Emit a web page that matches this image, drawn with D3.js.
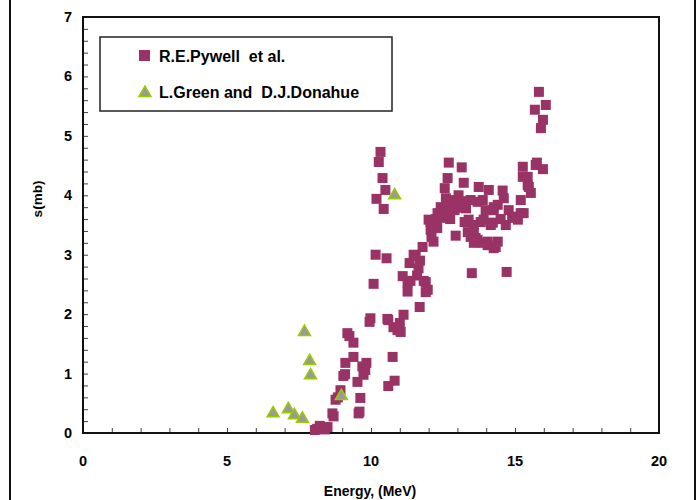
<!DOCTYPE html>
<html>
<head>
<meta charset="utf-8">
<script src="https://cdn.jsdelivr.net/npm/d3@7"></script>
<style>
  html, body { margin: 0; padding: 0; background: #fff; }
  svg { display: block; }
  text { font-family: "Liberation Sans", Arial, sans-serif; white-space: pre; }
</style>
</head>
<body>
<svg id="chart" width="699" height="500"></svg>
<script>
// Cross-section measurements: [energy (MeV), sigma (mb)]
const pywell = [
  [8.05,0.05],[8.13,0.07],[8.30,0.09],[8.49,0.10],[8.22,0.12],[8.40,0.06],
  [8.66,0.33],[8.70,0.28],[8.77,0.56],[8.85,0.60],[8.94,0.72],[9.04,0.96],
  [9.10,0.99],[9.11,1.18],[9.18,1.68],[9.25,1.63],[9.39,1.52],[9.39,1.28],
  [9.53,0.86],[9.57,0.33],[9.60,0.36],[9.63,0.59],[9.74,0.98],[9.80,1.06],
  [9.84,1.18],[9.70,1.12],[9.98,1.93],[9.95,1.87],[10.60,1.90],[10.57,1.92],
  [10.78,1.78],[10.92,1.73],[11.03,1.70],[11.13,1.99],[11.00,1.85],[10.75,1.28],
  [10.82,0.88],[10.60,0.79],[11.69,2.12],
  [10.33,4.73],[10.27,4.56],[10.40,4.29],[10.50,4.09],[10.19,3.94],[10.44,3.77],
  [10.16,3.00],[10.54,2.94],[10.09,2.51],
  [11.10,2.64],[11.27,2.53],[11.27,2.38],[11.34,2.86],[11.37,2.56],[11.48,3.00],
  [11.55,2.98],[11.65,2.77],[11.79,3.13],[11.83,2.56],[11.90,2.54],[11.97,2.41],
  [11.90,2.37],[12.00,3.59],[12.07,3.42],[12.07,3.55],[12.17,3.22],[12.25,3.60],
  [12.31,3.70],[12.42,3.80],[12.35,3.65],[12.50,3.75],[12.56,4.12],[12.66,4.29],
  [12.70,4.55],[12.83,3.84],[12.60,3.95],[12.75,3.90],[12.94,3.32],[12.90,3.75],
  [13.04,4.00],[13.00,3.85],[13.15,4.47],[13.22,4.21],[13.18,3.90],[13.36,3.38],
  [13.39,3.59],[13.46,3.92],[13.46,3.30],[13.50,2.69],[13.57,3.50],[13.57,3.20],
  [13.63,3.28],[13.70,3.89],[13.70,3.25],[13.74,4.14],[13.81,3.55],[13.98,3.75],
  [14.05,3.22],[14.09,4.09],[14.16,3.50],[14.26,3.75],[14.26,3.11],[14.40,3.84],
  [14.40,3.22],[14.57,4.08],[14.61,3.95],[14.68,3.50],[14.71,2.71],[14.78,3.75],
  [14.96,3.64],[15.10,3.59],[15.20,3.70],[15.30,3.70],[15.20,3.92],[15.27,4.48],
  [15.27,4.31],[15.44,4.31],[15.44,4.17],[15.48,4.14],[15.55,4.04],[15.72,4.51],
  [15.76,4.55],[15.97,4.44],[15.83,5.74],[16.07,5.52],[15.69,5.44],[15.97,5.27],
  [15.90,5.13],
  [12.20,3.48],[12.45,3.62],[12.60,3.72],[12.75,3.60],[12.87,3.92],[13.10,3.79],
  [13.30,3.78],[13.25,3.55],[13.88,3.92],[13.91,3.59],[14.23,3.54],[14.26,3.80],
  [13.57,3.37],[13.88,3.20],[14.05,3.16],[14.33,3.13],[14.50,3.60],[14.90,3.62],
  [12.10,3.30],[12.30,3.45],[11.70,2.90],[11.60,2.65]
];

const green = [
  [6.60,0.33],[7.13,0.40],[7.34,0.30],[7.62,0.24],[7.69,1.70],
  [7.87,1.21],[7.90,0.97],[8.97,0.62],[10.82,4.00]
];

const xTicks = [0, 5, 10, 15, 20];
const yTicks = [0, 1, 2, 3, 4, 5, 6, 7];
const legendLabels = ["R.E.Pywell  et al.", "L.Green and  D.J.Donahue"];
const xTitle = "Energy, (MeV)";
const yTitle = "s(mb)";

const svg = d3.select("#chart");
const plot = { left: 83, right: 659, top: 17, bottom: 433 };

const x = d3.scaleLinear().domain([0, 20]).range([plot.left, plot.right]);
const y = d3.scaleLinear().domain([0, 7]).range([plot.bottom, plot.top]);

// outer frame lines
svg.append("rect")
  .attr("x", 10).attr("y", -10).attr("width", 685).attr("height", 520)
  .attr("fill", "none").attr("stroke", "#111").attr("stroke-width", 2);

// minor/major ticks pointing inward
const xAxis = d3.axisTop(x).tickValues(d3.range(0, 21, 1)).tickSize(5).tickFormat("");
svg.append("g").attr("transform", `translate(0,${plot.bottom})`).call(xAxis)
  .call(g => g.select(".domain").remove())
  .selectAll("line").attr("stroke", "#444");

const yAxis = d3.axisRight(y).tickValues(d3.range(0, 7.01, 0.2)).tickSize(5).tickFormat("");
svg.append("g").attr("transform", `translate(${plot.left},0)`).call(yAxis)
  .call(g => g.select(".domain").remove())
  .selectAll("line").attr("stroke", "#444");

// tick labels
svg.append("g").selectAll("text").data(xTicks).join("text")
  .attr("x", d => x(d)).attr("y", 466)
  .attr("text-anchor", "middle")
  .attr("font-size", 14.5).attr("font-weight", "bold")
  .text(d => d);

svg.append("g").selectAll("text").data(yTicks).join("text")
  .attr("x", 72).attr("y", d => y(d) + 5)
  .attr("text-anchor", "end")
  .attr("font-size", 14.5).attr("font-weight", "bold")
  .text(d => d);

// plot frame
svg.append("rect")
  .attr("x", plot.left).attr("y", plot.top)
  .attr("width", plot.right - plot.left).attr("height", plot.bottom - plot.top)
  .attr("fill", "none").attr("stroke", "#111").attr("stroke-width", 2);

// axis titles
svg.append("text")
  .attr("x", 370).attr("y", 496)
  .attr("text-anchor", "middle")
  .attr("font-family", "'Open Sans', sans-serif")
  .attr("font-size", 14).attr("font-weight", "bold")
  .text(xTitle);

svg.append("text")
  .attr("transform", "translate(42,199) rotate(-90)")
  .attr("text-anchor", "middle")
  .attr("font-size", 13.5).attr("font-weight", "bold")
  .text(yTitle);

// squares
const sq = 10;
svg.append("g").selectAll("rect").data(pywell).join("rect")
  .attr("x", d => x(d[0]) - sq / 2).attr("y", d => y(d[1]) - sq / 2)
  .attr("width", sq).attr("height", sq)
  .attr("fill", "#993366");

// triangles
const tri = d3.symbol().type(d3.symbolTriangle).size(62);
svg.append("g").selectAll("path").data(green).join("path")
  .attr("transform", d => `translate(${x(d[0])},${y(d[1])})`)
  .attr("d", tri)
  .attr("fill", "#999999").attr("stroke", "#99cc00").attr("stroke-width", 1.5);

// legend
const lg = svg.append("g");
lg.append("rect")
  .attr("x", 100).attr("y", 37).attr("width", 292).attr("height", 74)
  .attr("fill", "#fff").attr("stroke", "#222").attr("stroke-width", 1.5);
lg.append("rect").attr("x", 139).attr("y", 50).attr("width", 11).attr("height", 11).attr("fill", "#993366");
lg.append("path").attr("transform", "translate(145,93)").attr("d", tri)
  .attr("fill", "#999999").attr("stroke", "#99cc00").attr("stroke-width", 1.5);
lg.selectAll("text.lbl").data(legendLabels).join("text")
  .attr("class", "lbl")
  .attr("x", 159).attr("y", (d, i) => 62 + i * 36)
  .attr("font-size", 16).attr("font-weight", "bold")
  .text(d => d);
</script>
</body>
</html>
